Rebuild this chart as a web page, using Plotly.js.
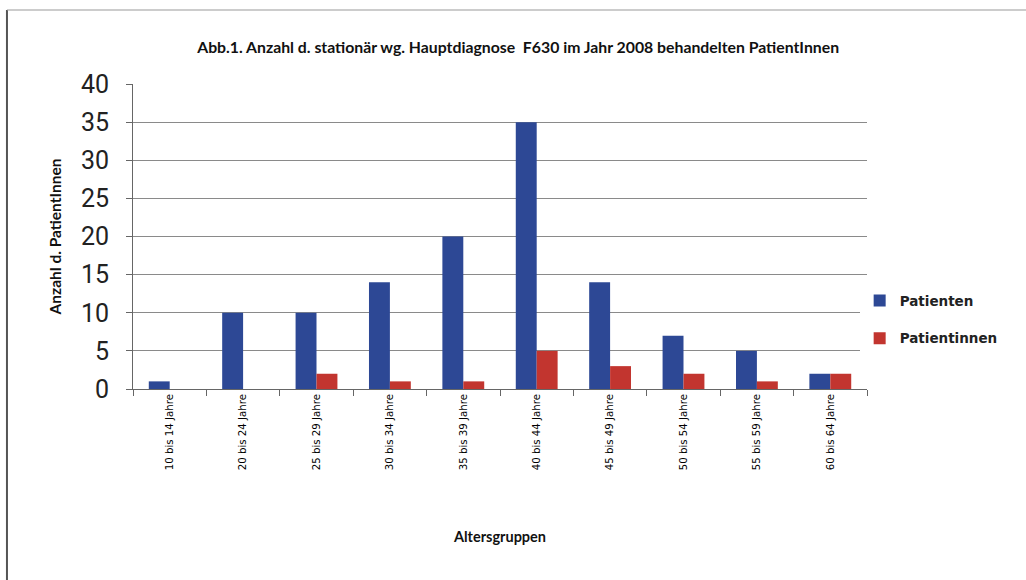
<!DOCTYPE html>
<html>
<head>
<meta charset="utf-8">
<script src="https://cdn.plot.ly/plotly-3.0.1.min.js"></script>
<style>
html,body{margin:0;padding:0;background:#fff;}
#chart{width:1026px;height:580px;}
</style>
</head>
<body>
<div id="chart"></div>
<script>
const categories = ["10 bis 14 Jahre","20 bis 24 Jahre","25 bis 29 Jahre","30 bis 34 Jahre","35 bis 39 Jahre","40 bis 44 Jahre","45 bis 49 Jahre","50 bis 54 Jahre","55 bis 59 Jahre","60 bis 64 Jahre"];
const patienten = [1,10,10,14,20,35,14,7,5,2];
const patientinnen = [0,0,2,1,1,5,3,2,1,2];
const yTicks = [0,5,10,15,20,25,30,35,40];

const boldFont = "Lato, 'Liberation Sans', Arial, sans-serif";

const traces = [
  {type:'bar', name:'Patienten', x:categories, y:patienten, marker:{color:'#2D4895'}, legendgroup:'a'},
  {type:'bar', name:'Patientinnen', x:categories, y:patientinnen, marker:{color:'#C2352F'}, legendgroup:'b'}
];

const layout = {
  width:1026, height:580,
  paper_bgcolor:'#fff', plot_bgcolor:'#fff',
  margin:{l:133, r:159, t:84, b:191},
  barmode:'group', bargap:0.43, bargroupgap:0,
  title:{text:'<b>Abb.1. Anzahl d. stationär wg. Hauptdiagnose  F630 im Jahr 2008 behandelten PatientInnen</b>',
         font:{family:boldFont, size:15.8, color:'#111'}, x:0.505, xanchor:'center', y:0.919, yanchor:'middle'},
  xaxis:{
    type:'category', showline:true, linecolor:'#666', linewidth:1,
    ticks:'outside', ticklen:6, tickcolor:'#666', tickson:'boundaries',
    tickangle:-90, tickfont:{family:"'DejaVu Sans', sans-serif", size:10.2, color:'#000'},
    showgrid:false, automargin:false,
    title:{text:'<b>Altersgruppen</b>', font:{family:boldFont, size:14.5, color:'#111'}, standoff:62}
  },
  yaxis:{
    range:[0,40], tickvals:yTicks, showline:true, linecolor:'#666', linewidth:1,
    ticks:'outside', ticklen:6, tickcolor:'#666', ticklabelstandoff:12,
    showgrid:true, gridcolor:'#8a8a8a', gridwidth:1, zeroline:false,
    tickfont:{family:"Roboto, 'DejaVu Sans', sans-serif", size:25, color:'#222'},
    automargin:false,
    title:{text:'<b>Anzahl d. PatientInnen</b>', font:{family:boldFont, size:15.5, color:'#111'}, standoff:15}
  },
  legend:{x:0.99, xanchor:'left', y:0.34, yanchor:'top', tracegroupgap:17,
          font:{family:"'DejaVu Sans', sans-serif", size:13.5, color:'#222', weight:'bold'}, itemwidth:30},
  showlegend:true,
  shapes:[
    {type:'line', xref:'paper', yref:'paper', x0:-0.1717, x1:-0.1717, y0:1.2426, y1:-0.64, line:{color:'#555', width:2}},
    {type:'line', xref:'paper', yref:'paper', x0:-0.1717, x1:1.22, y0:1.2426, y1:1.2426, line:{color:'#999', width:1}}
  ]
};

Plotly.newPlot('chart', traces, layout, {displayModeBar:false, staticPlot:true});
</script>
</body>
</html>
